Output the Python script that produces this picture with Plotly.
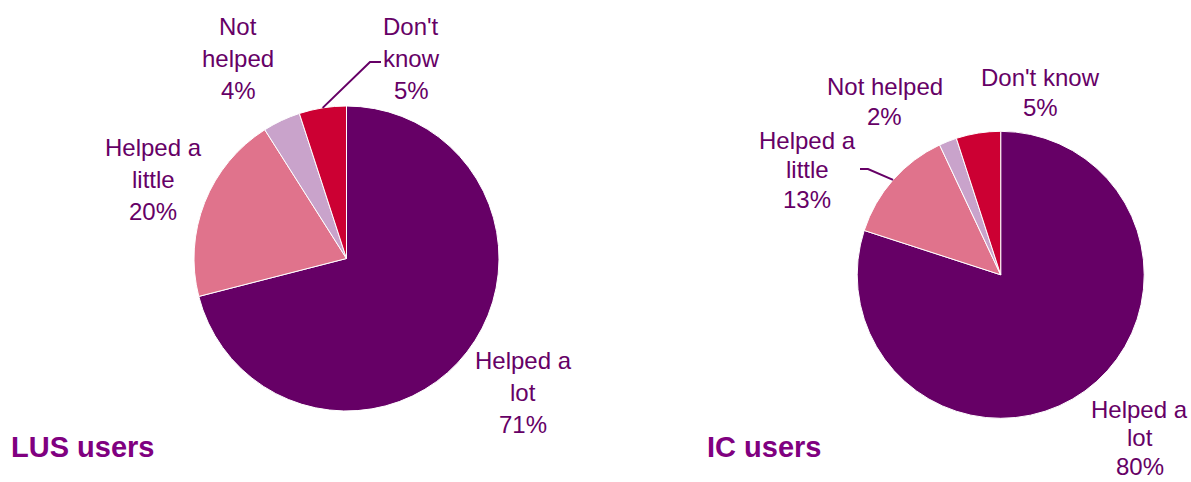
import math
import plotly.graph_objects as go

W, H = 1191, 482

categories = ["Helped a lot", "Helped a little", "Not helped", "Don't know"]
lus_values = [71, 20, 4, 5]
ic_values = [80, 13, 2, 5]
titles = ["LUS users", "IC users"]
colors = ["#660066", "#E0738C", "#C9A3CB", "#CC0033"]

# label text lines (category wrapped as in the reference) per pie
lus_label_lines = [["Helped a", "lot"], ["Helped a", "little"], ["Not", "helped"], ["Don't", "know"]]
ic_label_lines = [["Helped a", "lot"], ["Helped a", "little"], ["Not helped"], ["Don't know"]]

# layout (pixels): label centre of first line + line spacing per label
pies = [
    dict(values=lus_values, lines=lus_label_lines, cx=346.5, cy=258.5, r=152.5,
         label_pos=[(523, 360, 32), (153, 147, 32), (238, 26.5, 32), (411, 26.5, 32)],
         title_pos=(9, 447),
         leader=dict(idx=3, elbow=[(370, 62), (381, 62)])),
    dict(values=ic_values, lines=ic_label_lines, cx=1000.7, cy=274.8, r=143.5,
         label_pos=[(1139.5, 409, 28.5), (807, 140, 29.5), (885, 86.5, 30), (1040, 77, 30)],
         title_pos=(705, 447),
         leader=dict(idx=1, elbow=[(868, 169), (860, 169)])),
]

TEXT_COLOR = "#660066"
TITLE_COLOR = "#800080"
FONT = "Liberation Sans, Arial, sans-serif"


def px(x):
    return x / W


def py(y):
    return 1 - y / H


fig = go.Figure()
annotations = []
shapes = []

for p, title in zip(pies, titles):
    cx, cy, r = p["cx"], p["cy"], p["r"]
    fig.add_trace(go.Pie(
        labels=categories,
        values=p["values"],
        sort=False,
        direction="clockwise",
        rotation=0,
        marker=dict(colors=colors, line=dict(color="white", width=1)),
        textinfo="none",
        hoverinfo="label+percent",
        showlegend=False,
        domain=dict(x=[px(cx - r), px(cx + r)], y=[py(cy + r), py(cy - r)]),
    ))
    total = sum(p["values"])
    for i, (cat_lines, val) in enumerate(zip(p["lines"], p["values"])):
        pct = round(100 * val / total)
        lines = cat_lines + [f"{pct}%"]
        lx, ly, sp = p["label_pos"][i]
        for k, t in enumerate(lines):
            annotations.append(dict(
                x=px(lx), y=py(ly + k * sp), xref="paper", yref="paper",
                text=t, showarrow=False, xanchor="center", yanchor="middle",
                borderpad=0,
                font=dict(family=FONT, size=24, color=TEXT_COLOR),
            ))
    # leader line starting at slice mid-angle on the edge
    li = p["leader"]["idx"]
    start = sum(p["values"][:li]) / total
    mid = (start + p["values"][li] / total / 2) * 2 * math.pi
    sx, sy = cx + r * math.sin(mid), cy - r * math.cos(mid)
    pts = [(sx, sy)] + p["leader"]["elbow"]
    path = "M " + " L ".join(f"{px(x)},{py(y)}" for x, y in pts)
    shapes.append(dict(type="path", xref="paper", yref="paper", path=path,
                       line=dict(color=TEXT_COLOR, width=2)))
    tx, ty = p["title_pos"]
    annotations.append(dict(
        x=px(tx), y=py(ty), xref="paper", yref="paper", text=f"<b>{title}</b>",
        showarrow=False, xanchor="left", yanchor="middle",
        font=dict(family=FONT, size=29, color=TITLE_COLOR),
    ))

fig.update_layout(
    width=W, height=H,
    margin=dict(l=0, r=0, t=0, b=0),
    paper_bgcolor="white", plot_bgcolor="white",
    annotations=annotations, shapes=shapes,
)

fig.write_html("out.html")
